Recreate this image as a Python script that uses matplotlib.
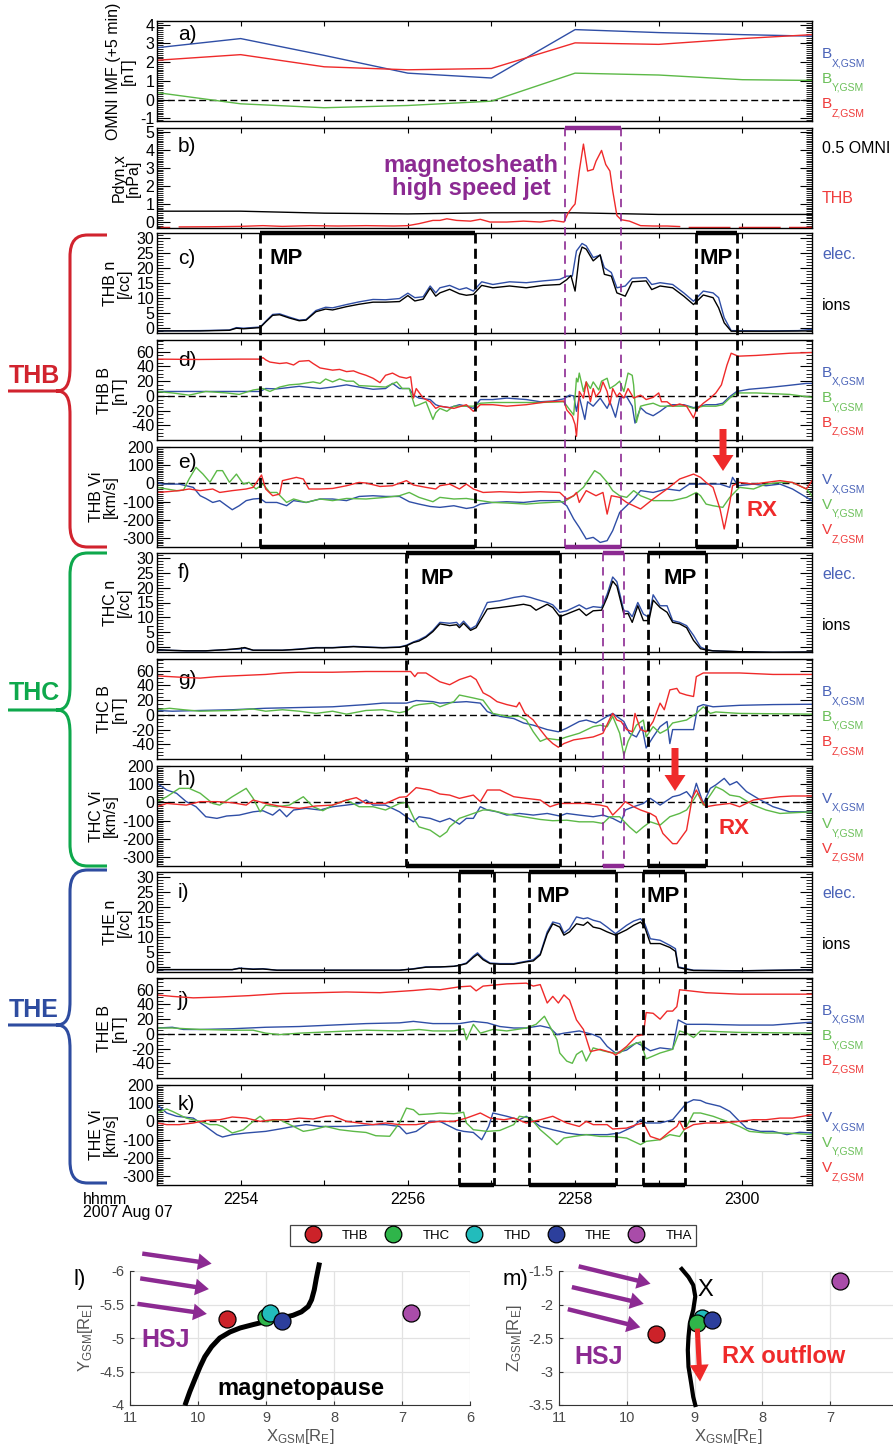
import numpy as np
import matplotlib
matplotlib.use('Agg')
import matplotlib.pyplot as plt
from matplotlib.lines import Line2D
from matplotlib.path import Path
from matplotlib.patches import PathPatch, FancyArrow
from matplotlib.transforms import Affine2D, blended_transform_factory
from matplotlib.ticker import MultipleLocator, FormatStrFormatter

plt.rcParams['font.family'] = ['Liberation Sans', 'DejaVu Sans']
plt.rcParams['mathtext.fontset'] = 'custom'
plt.rcParams['mathtext.rm'] = 'Liberation Sans'
plt.rcParams['mathtext.it'] = 'Liberation Sans:italic'
plt.rcParams['mathtext.bf'] = 'Liberation Sans:bold'
plt.rcParams['axes.unicode_minus'] = False

# ---------------------------------------------------------------------------
# data: time in seconds after 22:53:00 UT (2007 Aug 07)
# ---------------------------------------------------------------------------
nan = np.nan
tick_sec = [60, 180, 300, 420]
tick_lab = ['2254', '2256', '2258', '2300']
minor_sec = [120, 240, 360]

# a) OMNI IMF (1-min)
t_omni = [0, 60, 120, 180, 240, 300, 360, 420, 470]
omni_bx = [2.77, 3.26, 2.36, 1.41, 1.15, 3.74, 3.58, 3.47, 3.39]
omni_by = [0.37, -0.23, -0.44, -0.32, -0.09, 1.41, 1.31, 1.06, 1.02]
omni_bz = [2.10, 2.40, 1.75, 1.59, 1.66, 3.03, 2.95, 3.26, 3.47]

# b) dynamic pressure
omni_pdyn_half = [0.60, 0.60, 0.49, 0.45, 0.51, 0.51, 0.42, 0.42, 0.42]
thb_pdyn = [(3, -0.3), (9, -0.3), (12, nan), (16, -0.27), (40, -0.26), (60, -0.24), (76, -0.2),
            (90, -0.24), (110, -0.2), (130, -0.22), (150, -0.2), (170, -0.22), (180, -0.2),
            (188, -0.09), (198, 0.09), (203, 0.09), (208, 0.18), (215, 0.09), (225, 0.05),
            (232, 0.15), (239, 0.0), (251, 0.0), (263, 0.05), (275, 0.0), (284, 0.09), (292, 0.0),
            (295, 0.5), (298, 0.82), (300, 1.0), (303, 2.82), (306, 4.31), (309, 2.82), (313, 2.91),
            (315, 3.36), (319, 3.96), (322, 3.18), (325, 2.82), (327, 1.73), (330, 0.36), (333, 0.13),
            (339, 0.05), (347, -0.2), (356, -0.22), (366, -0.22), (375, -0.25), (378, nan),
            (382, -0.3), (411, -0.3), (414, nan), (418, -0.3), (447, -0.3), (450, nan),
            (454, -0.3), (470, -0.3)]

# c) THB density
thb_n_elec = [(0, -1.0), (31, -0.9), (52, -0.7), (57, 0.1), (62, -0.1), (74, 0.3), (78, 2.2), (83, 4.5),
              (88, 4.7), (95, 3.6), (102, 2.6), (107, 2.8), (114, 5.8), (121, 6.9), (126, 6.7), (136, 7.8),
              (145, 8.7), (155, 9.5), (164, 9.4), (174, 9.8), (180, 11.6), (185, 10.1), (191, 10.4),
              (196, 14.0), (200, 11.7), (203, 13.4), (210, 14.2), (217, 12.8), (222, 13.4), (227, 12.3),
              (233, 15.4), (241, 14.5), (253, 15.4), (265, 15.1), (277, 15.7), (289, 16.2), (294, 17.3),
              (298, 17.3), (301, 25.7), (305, 28.2), (308, 27.4), (313, 23.5), (318, 24.3), (321, 20.1),
              (326, 18.5), (330, 13.4), (336, 14.0), (341, 16.6), (351, 16.8), (355, 14.5), (361, 15.1),
              (370, 14.5), (378, 11.7), (385, 8.9), (392, 12.3), (399, 11.7), (403, 10.1), (407, 3.4),
              (412, -0.9), (440, -1.0), (460, -0.9), (470, -0.5)]
thb_n_ion = [(0, -1.0), (31, -1.0), (52, -0.8), (57, -0.1), (62, -0.3), (74, 0.1), (78, 2.0), (83, 4.2),
             (88, 4.4), (95, 3.3), (102, 2.4), (107, 2.6), (114, 5.4), (121, 6.3), (126, 6.0), (136, 7.1),
             (145, 7.9), (155, 8.6), (164, 8.6), (174, 8.8), (180, 10.8), (185, 9.0), (191, 9.6),
             (196, 13.3), (200, 10.6), (203, 11.7), (210, 12.9), (217, 11.4), (222, 10.9), (227, 11.2),
             (233, 14.2), (241, 13.4), (253, 14.0), (265, 13.4), (277, 14.2), (289, 14.5), (294, 16.1),
             (297, 17.5), (300, 12.3), (303, 24.0), (305, 27.0), (308, 26.3), (313, 22.4), (318, 24.4),
             (321, 17.9), (326, 17.3), (330, 11.7), (336, 10.6), (341, 15.4), (351, 15.7), (355, 12.8),
             (361, 14.0), (370, 13.4), (378, 10.6), (385, 7.8), (392, 11.0), (399, 10.1), (403, 6.7),
             (407, 1.7), (412, -1.1), (440, -1.1), (470, -1.0)]

# d) THB magnetic field
thb_bx = [(0, 6), (31, 6), (60, 6), (74, 6), (78, 10), (86, 9.5), (93, 11), (102, 13), (112, 11), (117, 10),
          (126, 12), (136, 15), (145, 12), (155, 9), (164, 10), (169, 17), (174, 10), (181, 10), (184, 1),
          (188, -3), (196, -5), (200, -12), (203, -14), (210, -16), (217, -12), (222, -14), (227, -17),
          (232, -5), (241, -5), (251, -3), (265, -5), (275, -8), (284, -7), (292, -4), (296, 1), (299, 0),
          (301, -21), (303, -1), (307, -32), (309, -8), (313, -14), (318, -3), (323, -17), (325, -8),
          (329, -29), (332, -3), (337, -1), (341, -14), (343, -37), (347, -16), (351, -23), (356, -27),
          (361, -21), (366, -14), (370, -12), (378, -12), (385, -16), (390, -14), (394, -12), (401, -12),
          (406, -10), (411, -1), (416, 6), (425, 9), (437, 11), (452, 14), (466, 17), (470, 17)]
thb_by = [(0, 6), (11, 4), (23, 1), (35, 6), (50, 4), (59, 2), (69, 8), (76, 10), (81, 6), (88, 12), (95, 15),
          (102, 16), (112, 19), (117, 17), (121, 23), (126, 19), (131, 23), (136, 20), (141, 20), (145, 14),
          (155, 13), (164, 12), (172, 19), (176, 10), (181, 10), (185, -14), (188, -12), (193, -8),
          (198, -32), (200, -23), (203, -17), (208, -21), (213, -14), (222, -14), (227, -14), (232, -10),
          (241, -9), (263, -9), (275, -9), (292, -8), (295, -16), (299, -26), (301, 24), (302, 19),
          (303, 31), (306, 6), (308, 19), (311, 10), (313, 19), (317, 8), (319, 20), (323, 24), (325, 10),
          (329, 15), (332, 20), (335, 6), (338, 31), (341, 28), (342, 15), (344, -36), (347, -14),
          (351, -12), (356, -10), (361, -14), (370, -14), (380, -14), (385, -17), (392, -14), (401, -14),
          (406, -12), (411, -3), (416, 4), (430, 4), (454, 2), (470, -2)]
thb_bz = [(0, 50), (30, 49.5), (60, 50), (74, 50), (76, 52), (78, 49), (81, 46), (88, 44), (93, 45), (98, 42),
          (102, 47), (109, 48), (112, 44), (117, 38), (126, 35), (131, 36), (136, 33), (141, 34), (145, 31),
          (150, 28), (155, 24), (160, 18), (164, 28), (169, 31), (174, 26), (179, 24), (182, 26), (184, -3),
          (186, 10), (191, -3), (196, -8), (200, -17), (203, -14), (213, -17), (222, -12), (227, -21),
          (232, -12), (241, -12), (251, -14), (265, -12), (280, -8), (292, -7), (294, -19), (298, -28),
          (300, -39), (301, -55), (302, -30), (303, 6), (306, -3), (308, 19), (311, -8), (313, 10),
          (315, -1), (318, 6), (320, 19), (323, 6), (325, -12), (327, 10), (330, -1), (332, 4), (335, -3),
          (338, 10), (342, -3), (347, 1), (351, -5), (356, -2), (360, 4), (362, -8), (366, -8), (370, -14),
          (375, -11), (380, -14), (385, -30), (387, -19), (392, -10), (397, -3), (401, 4), (405, 15),
          (409, 42), (412, 58), (417, 54), (430, 55), (454, 58), (470, 59)]

# e) THB ion velocity
thb_vx = [(0, 5), (4, -4), (16, -4), (26, -22), (31, -68), (35, -83), (40, -105), (45, -95), (50, -123),
          (54, -145), (59, -123), (64, -95), (69, -86), (74, -83), (78, -105), (86, -105), (93, -123),
          (98, -95), (107, -105), (117, -86), (126, -86), (136, -95), (145, -72), (155, -68), (164, -72),
          (174, -72), (181, -101), (188, -114), (196, -127), (203, -132), (213, -123), (222, -138),
          (227, -132), (232, -114), (241, -105), (251, -101), (263, -105), (275, -95), (289, -95),
          (294, -123), (299, -196), (303, -242), (308, -306), (313, -297), (318, -325), (323, -315),
          (327, -260), (332, -160), (337, -123), (342, -86), (347, -40), (356, -50), (366, -31), (375, -40),
          (382, -4), (394, -4), (404, -4), (411, -22), (413, 33), (417, -13), (428, -4), (437, -13),
          (447, -4), (456, -31), (466, -77), (470, -95)]
thb_vy = [(0, -22), (7, -31), (14, -40), (19, -37), (23, 24), (28, 88), (33, 51), (38, 6), (43, 70), (47, 70),
          (52, 6), (57, 51), (62, -4), (66, 6), (71, -31), (76, -4), (81, -50), (86, -50), (93, -105),
          (98, -86), (107, -105), (117, -86), (126, -95), (136, -83), (150, -86), (164, -77), (174, -68),
          (181, -50), (188, -77), (198, -101), (203, -77), (213, -86), (222, -83), (232, -95), (241, -105),
          (251, -108), (265, -114), (275, -108), (292, -101), (299, -68), (306, -22), (314, 70), (318, 51),
          (323, 6), (327, -40), (332, -68), (337, -77), (342, -40), (347, -68), (356, -95), (370, -95),
          (380, -77), (387, -50), (390, -68), (394, -114), (399, -123), (406, -132), (411, -77), (418, -22),
          (428, -31), (437, -4), (447, 5), (456, 5), (466, -31), (470, -68)]
thb_vz = [(0, -50), (7, -46), (16, -40), (23, -31), (31, -40), (40, -31), (45, -50), (54, -40), (64, -31),
          (69, -22), (75, 46), (78, -31), (83, -68), (88, -59), (90, 15), (95, 24), (100, 33), (105, 24),
          (109, -31), (117, -31), (126, -28), (136, -13), (145, 5), (150, 2), (160, -17), (169, -13),
          (179, 15), (184, -9), (193, -22), (200, -31), (203, -13), (210, -4), (217, -31), (222, -4),
          (227, -31), (234, -50), (246, -46), (260, -50), (275, -46), (289, -50), (294, -86), (299, -68),
          (301, -50), (303, -105), (308, -40), (315, -68), (320, -50), (323, -169), (326, -68), (332, -77),
          (337, -105), (347, -141), (356, -86), (366, -31), (375, 24), (385, 51), (390, 33), (394, 5),
          (399, -22), (404, -141), (407, -251), (411, -105), (413, -13), (418, 5), (428, -4), (437, 5),
          (447, 15), (456, 5), (466, -31), (470, 15)]

# f) THC density
thc_n_elec = [(0, -0.9), (7, -1.1), (21, -1.3), (35, -1.3), (50, -0.9), (59, -0.7), (63, -0.4), (69, -1.1),
              (90, -1.1), (102, -0.7), (114, -0.2), (126, -0.2), (141, 0.2), (150, 0.0), (162, -0.2),
              (174, 0.0), (179, 0.6), (184, 1.7), (188, 2.4), (193, 3.6), (198, 5.6), (203, 8.3), (210, 8.0),
              (215, 8.3), (217, 7.2), (220, 8.7), (225, 6.1), (229, 7.2), (237, 15.0), (246, 15.6),
              (256, 16.7), (263, 17.2), (268, 16.7), (272, 16.1), (280, 15.0), (284, 14.2), (289, 11.7),
              (294, 12.2), (303, 14.2), (308, 12.8), (313, 13.6), (319, 13.3), (323, 17.8), (327, 23.6),
              (330, 22.0), (335, 12.2), (338, 12.0), (341, 10.2), (345, 15.0), (349, 11.1), (353, 10.0),
              (356, 17.6), (361, 13.9), (366, 13.9), (370, 8.9), (375, 8.3), (380, 7.2), (385, 3.9),
              (390, 0.0), (394, -0.9), (399, -1.3), (418, -1.6), (442, -1.8), (470, -1.7)]
thc_n_ion = [(0, -0.9), (7, -1.1), (21, -1.3), (35, -1.3), (50, -0.9), (59, -0.5), (63, -0.2), (69, -1.1),
             (90, -1.1), (102, -0.8), (114, -0.3), (126, -0.3), (141, 0.1), (150, -0.1), (162, -0.3),
             (174, -0.1), (179, 0.4), (184, 1.5), (188, 2.0), (193, 3.3), (198, 5.2), (203, 7.8), (210, 7.2),
             (215, 7.5), (217, 6.5), (220, 8.0), (225, 5.6), (229, 6.5), (237, 12.8), (246, 13.3),
             (256, 13.9), (263, 14.4), (268, 13.9), (272, 12.4), (280, 14.4), (284, 13.3), (289, 10.2),
             (294, 11.1), (303, 12.8), (308, 10.6), (313, 12.2), (319, 12.4), (323, 16.7), (327, 22.2),
             (330, 20.5), (335, 11.1), (338, 11.3), (341, 8.3), (345, 13.9), (349, 8.9), (353, 8.9),
             (356, 15.8), (361, 13.3), (366, 11.7), (370, 8.3), (375, 7.8), (380, 6.5), (385, 2.2),
             (390, -0.6), (394, -1.0), (399, -1.3), (418, -1.6), (442, -1.8), (470, -1.7)]

# g) THC magnetic field
thc_bx = [(0, 6), (11, 5), (31, 6), (54, 7), (78, 9), (102, 10), (126, 11), (150, 14), (162, 16), (179, 16),
          (186, 19.5), (198, 18), (203, 16), (213, 17), (222, 18), (232, 16), (237, 4.5), (246, -2),
          (256, -5), (263, -11), (270, -14), (280, -20), (288, -23), (294, -18), (303, -9), (308, -7),
          (315, -11), (323, -2), (327, 2), (335, -9), (339, -25), (344, -30), (348, -16), (351, -45),
          (356, -30), (361, -16), (366, -9), (368, -39), (370, -20), (375, -20), (385, -20), (388, 11),
          (392, 14), (399, 11), (418, 13), (442, 14), (470, 14.5)]
thc_by = [(0, 7), (9, 9), (19, 7), (31, 5), (54, 6), (69, 8), (78, 5), (90, 7), (102, 5), (114, 2), (126, 5),
          (136, 1), (150, 6), (162, 7), (174, 3), (179, 5), (184, 12), (188, 14), (198, 16), (203, 11),
          (213, 18), (217, 27), (227, 23), (234, 20), (241, 2), (251, -2), (260, -2), (265, -7), (270, -23),
          (275, -36), (280, -32), (288, -34), (294, -30), (303, -25), (313, -16), (318, -14), (323, -16),
          (327, -2), (332, -25), (335, -55), (338, -36), (344, -14), (349, -7), (351, -30), (356, -16),
          (361, -25), (366, -20), (370, -11), (380, -7), (387, 2), (392, 11), (397, 2), (401, 4), (418, 2),
          (470, 1)]
thc_bz = [(0, 53), (19, 51), (31, 50), (43, 52), (54, 53), (78, 55), (90, 57), (102, 58), (126, 58), (150, 59),
          (182, 59), (185, 52), (187, 57), (193, 57), (198, 51), (203, 45), (210, 41), (217, 48), (225, 53),
          (229, 48), (234, 30), (239, 25), (244, 18), (251, 14), (258, 11), (260, 17), (264, 2), (270, -7),
          (275, -20), (280, -32), (284, -39), (288, -44), (292, -39), (299, -34), (306, -32), (313, -30),
          (320, -25), (325, -5), (327, 2), (330, -7), (333, -9), (337, -20), (341, -23), (343, 2),
          (347, -20), (351, -23), (356, -9), (361, 16), (364, 7), (368, 34), (373, 36), (375, 30),
          (380, 27), (385, 25), (387, 52), (392, 57), (399, 57), (418, 57), (442, 55), (470, 55)]

# h) THC ion velocity
thc_vx = [(0, 105), (7, 68), (14, 50), (21, 4), (28, -24), (35, -79), (43, -88), (50, -75), (59, -70),
          (69, -52), (76, -46), (83, -70), (88, -39), (93, -79), (98, -42), (107, -33), (117, -42),
          (126, -24), (136, -15), (145, -6), (150, 13), (155, -15), (164, -15), (174, -52), (184, -107),
          (188, -79), (196, -88), (203, -107), (210, -88), (217, -120), (222, -88), (227, -88), (232, -24),
          (237, -42), (244, -52), (251, -70), (260, -61), (270, -70), (280, -61), (289, -75), (294, -61),
          (303, -70), (313, -79), (320, -70), (327, -88), (333, -112), (336, -42), (342, -24), (349, -6),
          (354, 22), (361, -15), (370, 31), (375, 40), (380, 59), (384, 22), (387, 105), (392, -6),
          (397, 77), (401, 96), (407, 132), (411, 96), (416, 114), (423, 59), (433, 13), (442, -24),
          (454, -52), (470, -52)]
thc_vy = [(0, 4), (7, 31), (16, 77), (23, 77), (31, 50), (40, -6), (45, -15), (54, 31), (64, 77), (69, 22),
          (74, -52), (78, -15), (86, -24), (95, -15), (105, 31), (112, -24), (119, -46), (126, -15),
          (136, 13), (145, -24), (155, -24), (164, -42), (174, -6), (179, 0), (185, -98), (188, -135),
          (196, -153), (203, -190), (208, -162), (210, -135), (217, -88), (227, -61), (234, -42), (239, -42),
          (251, -64), (263, -79), (275, -94), (284, -101), (294, -98), (303, -107), (313, -107), (320, -116),
          (325, -79), (332, -79), (339, -135), (344, -168), (349, -135), (354, -107), (361, -125),
          (368, -79), (375, -61), (380, -42), (385, 13), (388, 50), (392, -15), (397, 40), (401, 86),
          (406, 68), (411, 40), (418, 31), (428, -15), (437, -42), (447, -61), (470, -52)]
thc_vz = [(0, -24), (7, -6), (21, -15), (31, 4), (43, 4), (54, -2), (64, -15), (69, 13), (78, -6), (90, -24),
          (102, -33), (114, -20), (126, -15), (136, 13), (143, 26), (150, -6), (164, -6), (174, 28),
          (179, 31), (186, 81), (196, 68), (203, 46), (210, 40), (217, 22), (227, 40), (232, 4), (237, 68),
          (246, 68), (256, 31), (265, 22), (275, 13), (282, -24), (289, -6), (299, -6), (308, -6),
          (318, -15), (323, -24), (327, -70), (333, -24), (336, 4), (342, -24), (347, -42), (354, -61),
          (358, -79), (363, -171), (370, -227), (373, -227), (380, -153), (384, 22), (387, 68), (392, -6),
          (394, -24), (401, -15), (411, -6), (418, -24), (428, 13), (437, 22), (447, 31), (456, 35),
          (470, 35)]

# i) THE density
the_n_elec = [(0, -0.9), (31, -0.9), (54, -0.9), (59, -0.4), (69, -0.7), (76, -0.6), (86, -1.1), (102, -1.1),
              (126, -1.1), (150, -1.1), (174, -1.1), (184, -0.6), (193, 0.0), (203, 0.0), (213, 0.2),
              (217, 0.6), (222, 1.3), (227, 3.6), (230, 4.7), (234, 2.8), (239, 1.3), (246, 1.1), (256, 1.1),
              (265, 1.9), (270, 2.4), (275, 4.4), (280, 11.7), (284, 15.0), (289, 14.4), (292, 11.3),
              (296, 12.8), (301, 16.7), (306, 16.1), (309, 16.4), (313, 15.6), (318, 15.0), (323, 13.3),
              (329, 11.1), (337, 13.9), (342, 15.3), (347, 16.1), (350, 14.4), (354, 9.4), (361, 8.9),
              (368, 7.2), (372, 6.1), (374, 0.0), (380, -0.6), (385, -1.1), (418, -1.3), (470, -0.9)]
the_n_ion = [(0, -0.9), (31, -0.9), (54, -0.9), (59, -0.5), (69, -0.8), (76, -0.7), (86, -1.1), (102, -1.1),
             (126, -1.1), (150, -1.1), (174, -1.1), (184, -0.7), (193, -0.1), (203, 0.0), (213, 0.2),
             (217, 0.5), (222, 1.1), (227, 3.2), (230, 4.2), (234, 2.4), (239, 1.1), (246, 0.9), (256, 0.9),
             (265, 1.7), (270, 2.0), (275, 4.0), (280, 11.0), (284, 14.4), (289, 13.3), (292, 10.6),
             (296, 11.7), (301, 14.4), (306, 13.9), (309, 15.0), (313, 13.3), (318, 12.8), (323, 11.7),
             (329, 10.6), (337, 12.4), (342, 13.9), (347, 15.0), (350, 13.3), (354, 7.8), (361, 7.8),
             (368, 6.5), (372, 5.2), (374, -0.2), (380, -0.8), (385, -1.2), (418, -1.3), (470, -1.0)]

# j) THE magnetic field
the_bx = [(0, 8), (11, 9), (19, 6), (31, 6), (54, 7), (78, 9), (102, 10), (126, 12), (150, 14), (174, 15),
          (184, 17), (198, 14), (203, 14), (217, 14), (227, 17), (237, 15), (246, 10), (256, 8), (265, 8),
          (275, 11), (282, 8), (287, -1), (292, 1), (303, 4), (313, -1), (318, -5), (323, -17), (329, -26),
          (337, -22), (344, -12), (349, -17), (354, -23), (361, -19), (370, -21), (374, 19), (380, 13),
          (394, 13), (418, 12), (442, 12), (470, 16)]
the_by = [(0, 8), (11, 8), (31, 6), (54, 5), (69, 5), (78, 1), (88, -1), (102, 1), (126, 3), (150, 5), (174, 4),
          (188, 6), (198, 4), (203, 4), (213, 4), (220, 7), (222, -8), (227, 13), (232, 1), (241, 6),
          (251, 4), (265, 8), (272, 13), (278, 24), (282, 10), (287, -8), (289, -26), (294, -37), (298, -40),
          (301, -28), (305, -23), (308, -37), (313, -19), (320, -23), (327, -26), (332, -26), (337, -19),
          (342, -14), (347, -11), (351, -34), (361, -26), (370, -21), (375, 4), (380, 1), (385, -5),
          (390, 4), (418, 2), (470, 1)]
the_bz = [(0, 53), (11, 51), (26, 49), (43, 50), (66, 52), (90, 55), (114, 56), (136, 57), (160, 56), (184, 59),
          (196, 61), (203, 60), (217, 64), (225, 65), (229, 58.5), (234, 65), (251, 68), (265, 69), (270, 65),
          (275, 67), (280, 42), (284, 51), (288, 42), (292, 53), (296, 46), (301, 19), (306, 6), (311, -24),
          (318, -21), (327, -26), (329, -29), (337, -17), (344, -3), (349, -1), (351, 29), (356, 28),
          (361, 20), (366, 31), (370, 31), (373, 37), (375, 60), (380, 59), (394, 56), (418, 54), (442, 54),
          (470, 54)]

# k) THE ion velocity
the_vx = [(0, 92), (7, 46), (14, 28), (26, 18), (35, -28), (43, -73), (47, -86), (54, -73), (64, -64),
          (78, -55), (88, -42), (98, -28), (107, -18), (117, -28), (126, -28), (136, -28), (145, -24),
          (155, -18), (164, -18), (174, -28), (179, -68), (186, -55), (196, 0), (203, 0), (215, -46),
          (220, -55), (227, -61), (233, -101), (238, -28), (241, 46), (251, 28), (260, 9), (265, 28),
          (275, -28), (284, -46), (294, -64), (303, -73), (313, -73), (323, -73), (332, -64), (342, -28),
          (347, 9), (351, -9), (361, -9), (370, 9), (375, 55), (380, 101), (385, 119), (390, 115),
          (394, 101), (404, 83), (411, 55), (418, 0), (423, -37), (433, -55), (442, -55), (452, -73),
          (461, -60), (470, -64)]
the_vy = [(0, 46), (7, 68), (11, 55), (21, 18), (31, 0), (38, -18), (43, -18), (47, -28), (54, -64), (62, -46),
          (69, 0), (74, 28), (78, 0), (88, 9), (98, -28), (105, -55), (112, -46), (121, -28), (131, -46),
          (141, -55), (150, -61), (157, -79), (167, -82), (174, -9), (179, 73), (184, 64), (188, 37),
          (198, 42), (203, 46), (213, 42), (220, 50), (222, -9), (227, -46), (237, -55), (246, -50),
          (256, -18), (260, 28), (268, 18), (275, -46), (282, -92), (287, -128), (292, -92), (299, -83),
          (308, -73), (318, -83), (327, -83), (337, -92), (347, -128), (351, -110), (361, -101), (368, -73),
          (375, -83), (380, -28), (385, 46), (390, 46), (399, 28), (409, 0), (418, -28), (425, -55),
          (437, -64), (452, -64), (470, -73)]
the_vz = [(0, -9), (7, -18), (16, -18), (26, -9), (35, 5), (45, 9), (54, 24), (64, 18), (74, 0), (83, 9),
          (93, 9), (102, 18), (112, 13), (121, 28), (126, 31), (136, 0), (145, -9), (155, -18), (164, -9),
          (174, -18), (186, -18), (193, -9), (203, 0), (213, 0), (222, 18), (232, 46), (239, 18), (249, 9),
          (256, 18), (265, -9), (275, 9), (284, 28), (289, 9), (294, -9), (303, -28), (308, 0), (313, -18),
          (323, -18), (327, -42), (337, -37), (344, -18), (349, -9), (354, -83), (361, -101), (368, -55),
          (373, -28), (375, 0), (378, -46), (385, -18), (394, -9), (404, -9), (418, 0), (428, 9), (437, 9),
          (447, 18), (456, 18), (470, 37)]

# magnetopause crossings (start, end seconds) and jet intervals
thb_mp = [(74, 228), (387, 416)]
thc_mp = [(179, 289), (352, 394)]
the_mp = [(217, 242), (267, 329), (349, 379)]
thb_jet = (293, 333)
thc_jet = (320, 335)

# l), m) spacecraft positions
sc_names = ['THB', 'THC', 'THD', 'THE', 'THA']
sc_x_xy = [9.58, 9.00, 8.94, 8.77, 6.87]
sc_y_xy = [-5.28, -5.32, -5.37, -5.26, -5.38]
sc_x_xz = [9.57, 8.96, 8.89, 8.74, 6.85]
sc_z_xz = [-2.44, -2.28, -2.20, -2.23, -1.65]
mp_xy_x = [10.18, 10.12, 10.04, 9.97, 9.90, 9.80, 9.68, 9.53, 9.38, 9.19, 8.99, 8.79, 8.60, 8.48, 8.38,
           8.33, 8.29, 8.26, 8.22]
mp_xy_y = [-4.03, -4.20, -4.40, -4.57, -4.72, -4.87, -5.00, -5.09, -5.15, -5.20, -5.25, -5.29, -5.34,
           -5.39, -5.47, -5.57, -5.72, -5.89, -6.09]
mp_xz_x = [9.19, 9.09, 9.02, 8.99, 9.02, 9.07, 9.09, 9.10, 9.09, 9.05, 9.02, 8.99]
mp_xz_z = [-1.47, -1.59, -1.71, -1.88, -2.08, -2.28, -2.48, -2.68, -2.93, -3.18, -3.38, -3.50]
hsj_xy = [((10.82, -6.26), (9.80, -6.11)), ((10.85, -5.89), (9.84, -5.73)), ((10.89, -5.51), (9.87, -5.36))]
hsj_xz = [((10.71, -1.43), (9.65, -1.69)), ((10.81, -1.74), (9.75, -1.99)), ((10.87, -2.07), (9.80, -2.34))]
rx_outflow = ((8.96, -2.36), (8.92, -3.15))

# ---------------------------------------------------------------------------
BLUE, GREEN, RED, PURPLE = '#2f4ea6', '#5cb947', '#ef2a2a', '#8c2a92'
BLUE_T, GREEN_T, RED_T = '#4a63b8', '#6cc05a', '#ef3b3b'
SC_COL = ['#cc2229', '#2fb54a', '#22bcbc', '#2c3f9c', '#a94ca9']

W, H = 893, 1452
fig = plt.figure(figsize=(W / 100, H / 100), dpi=100)
px = Affine2D().scale(1 / W, -1 / H).translate(0, 1) + fig.transFigure


def add_axes(x0, y0, x1, y1):
    return fig.add_axes([x0 / W, 1 - y1 / H, (x1 - x0) / W, (y1 - y0) / H])


def xy(pairs):
    a = np.array(pairs, dtype=float)
    return a[:, 0], a[:, 1]


rows = {'a': (21, 121), 'b': (128, 228), 'c': (233, 333), 'd': (340, 440), 'e': (447, 547),
        'f': (553, 652), 'g': (659, 759), 'h': (766, 866), 'i': (872, 972), 'j': (978, 1078),
        'k': (1085, 1185)}
ax = {k: add_axes(157, y0, 812, y1) for k, (y0, y1) in rows.items()}


def style(a, ylim, yticks, minor, ylabel, letter, letter_y):
    a.set_xlim(0, 470)
    a.set_ylim(*ylim)
    a.set_xticks(tick_sec)
    a.set_xticks(minor_sec, minor=True)
    a.set_xticklabels([])
    a.set_yticks(yticks)
    a.set_yticklabels([f'{v:g}' for v in yticks])
    a.yaxis.set_minor_locator(MultipleLocator(minor))
    a.tick_params(axis='y', which='major', direction='in', length=9, width=0.8, left=True, right=True,
                  labelsize=11.5, pad=2)
    a.tick_params(axis='y', which='minor', direction='in', length=4.5, width=0.6, left=True, right=True)
    a.tick_params(axis='x', which='both', direction='in', length=3.5, width=0.8, top=True, bottom=True,
                  labelsize=11.5, pad=5)
    for s in a.spines.values():
        s.set_linewidth(1.0)
    a.set_ylabel(ylabel, fontsize=11.5, linespacing=0.95, labelpad=3)
    a.text(0.032, letter_y, letter, transform=a.transAxes, fontsize=15, va='center', zorder=1)


def zero(a):
    a.axhline(0, color='k', lw=1.0, ls=(0, (5, 2.5)), zorder=1.5)


lw = 1.0
VLIM, BLIM, NLIM = (-350, 200), (-60, 76), (-1.7, 31.7)
VT, BT, NT = [-300, -200, -100, 0, 100, 200], [-40, -20, 0, 20, 40, 60], [0, 5, 10, 15, 20, 25, 30]

# a)
a = ax['a']
a.plot(t_omni, omni_bx, color=BLUE, lw=lw)
a.plot(t_omni, omni_by, color=GREEN, lw=lw)
a.plot(t_omni, omni_bz, color=RED, lw=lw)
zero(a)
style(a, (-1.15, 4.2), [-1, 0, 1, 2, 3, 4], 0.1, 'OMNI IMF (+5 min)\n[nT]', 'a)', 0.86)

# b)
a = ax['b']
a.plot(t_omni, omni_pdyn_half, color='k', lw=lw)
a.plot(*xy(thb_pdyn), color=RED, lw=lw)
style(a, (-0.33, 5.2), [0, 1, 2, 3, 4, 5], 0.1, 'Pdyn,x\n[nPa]', 'b)', 0.81)

# density / field / velocity panels
for key, ne, ni, sc, letter, ly in [('c', thb_n_elec, thb_n_ion, 'THB', 'c)', 0.75),
                                    ('f', thc_n_elec, thc_n_ion, 'THC', 'f)', 0.80),
                                    ('i', the_n_elec, the_n_ion, 'THE', 'i)', 0.80)]:
    a = ax[key]
    a.plot(*xy(ne), color=BLUE, lw=lw)
    a.plot(*xy(ni), color='k', lw=lw)
    style(a, NLIM, NT, 1, f'{sc} n\n[/cc]', letter, ly)

for key, bx, by, bz, sc, letter, ly in [('d', thb_bx, thb_by, thb_bz, 'THB', 'd)', 0.80),
                                        ('g', thc_bx, thc_by, thc_bz, 'THC', 'g)', 0.79),
                                        ('j', the_bx, the_by, the_bz, 'THE', 'j)', 0.78)]:
    a = ax[key]
    a.plot(*xy(bx), color=BLUE, lw=lw)
    a.plot(*xy(by), color=GREEN, lw=lw)
    a.plot(*xy(bz), color=RED, lw=lw)
    zero(a)
    style(a, BLIM, BT, 5, f'{sc} B\n[nT]', letter, ly)

for key, vx, vy, vz, sc, letter, ly in [('e', thb_vx, thb_vy, thb_vz, 'THB', 'e)', 0.84),
                                        ('h', thc_vx, thc_vy, thc_vz, 'THC', 'h)', 0.86),
                                        ('k', the_vx, the_vy, the_vz, 'THE', 'k)', 0.80)]:
    a = ax[key]
    a.plot(*xy(vx), color=BLUE, lw=lw)
    a.plot(*xy(vy), color=GREEN, lw=lw)
    a.plot(*xy(vz), color=RED, lw=lw)
    zero(a)
    style(a, VLIM, VT, 10, f'{sc} Vi\n[km/s]', letter, ly)

ax['k'].set_xticks(tick_sec, tick_lab)
fig.text(83, 1206, 'hhmm\n2007 Aug 07', transform=px, fontsize=11.5, va='center', ha='left', linespacing=0.85)


# right-hand labels: main letter plus lowered subscript
def side_label(y, letter, sub, color):
    fig.text(822, y, letter, transform=px, color=color, fontsize=11, va='baseline')
    fig.text(832, y + 8, sub, transform=px, color=color, fontsize=7.5, va='baseline')


subs = ['X,GSM', 'Y,GSM', 'Z,GSM']
for key in ['a', 'd', 'g', 'j', 'e', 'h', 'k']:
    letter = 'V' if key in ('e', 'h', 'k') else 'B'
    for s, dy, c in zip(subs, [37, 62, 87], [BLUE_T, GREEN_T, RED_T]):
        side_label(rows[key][0] + dy, letter, s, c)
for key in ['c', 'f', 'i']:
    fig.text(822, rows[key][0] + 26, 'elec.', transform=px, color=BLUE_T, fontsize=11.5, va='baseline')
    fig.text(822, rows[key][0] + 77, 'ions', transform=px, color='k', fontsize=11.5, va='baseline')
fig.text(822, rows['b'][0] + 25, '0.5 OMNI', transform=px, color='k', fontsize=11.5, va='baseline')
fig.text(822, rows['b'][0] + 75, 'THB', transform=px, color=RED_T, fontsize=11.5, va='baseline')


# boxes marking magnetopause / jet intervals
def box(t0, t1, ytop, ybot, color, lw_v, dash, lw_h):
    tr = blended_transform_factory(ax['c'].transData, px)
    for t in (t0, t1):
        fig.add_artist(Line2D([t, t], [ytop, ybot], transform=tr, color=color, lw=lw_v,
                              linestyle=(0, dash), zorder=5))
    for y in (ytop, ybot):
        fig.add_artist(Line2D([t0, t1], [y, y], transform=tr, color=color, lw=lw_h,
                              solid_capstyle='butt', zorder=5))


for t0, t1 in thb_mp:
    box(t0, t1, rows['c'][0], rows['e'][1], 'k', 2.0, (3.6, 1.9), 3.2)
for t0, t1 in thc_mp:
    box(t0, t1, rows['f'][0], rows['h'][1], 'k', 2.0, (3.6, 1.9), 3.2)
for t0, t1 in the_mp:
    box(t0, t1, rows['i'][0], rows['k'][1], 'k', 2.0, (3.6, 1.9), 3.2)
box(*thb_jet, rows['b'][0], rows['e'][1], PURPLE, 1.2, (5, 3.5), 3.2)
box(*thc_jet, rows['f'][0], rows['h'][1], PURPLE, 1.2, (5, 3.5), 3.2)

trx = blended_transform_factory(ax['c'].transData, px)
for t, y in [(92.9, 258), (401.5, 258), (200.9, 578), (375.3, 578), (284.2, 897), (363.1, 897)]:
    fig.text(t, y, 'MP', transform=trx, fontsize=16, fontweight='bold', ha='center', va='center')

fig.text(471, 177, 'magnetosheath\nhigh speed jet', transform=px, color=PURPLE, fontsize=17,
         fontweight='bold', ha='center', va='center', linespacing=0.95)

# RX arrows and labels
for x0, y0, ln in [(723, 429, 42), (675, 748, 43)]:
    fig.add_artist(FancyArrow(x0, y0, 0, ln, width=7, head_width=21, head_length=16,
                              length_includes_head=True, color=RED, lw=0, transform=px))
fig.text(762, 510, 'RX', transform=px, color=RED, fontsize=16, fontweight='bold', ha='center', va='center')
fig.text(734, 828, 'RX', transform=px, color=RED, fontsize=16, fontweight='bold', ha='center', va='center')


# braces on the left
def brace(top, mid, bot, color, label, ly):
    verts = [(107, top), (88, top), (76, top), (70, top + 6), (70, top + 22), (70, mid - 24),
             (70, mid - 6), (66, mid), (56, mid), (8, mid),
             (56, mid), (66, mid), (70, mid + 6), (70, mid + 24), (70, bot - 22),
             (70, bot - 6), (76, bot), (88, bot), (107, bot)]
    codes = [Path.MOVETO, Path.LINETO, Path.CURVE4, Path.CURVE4, Path.CURVE4, Path.LINETO,
             Path.CURVE4, Path.CURVE4, Path.CURVE4, Path.LINETO,
             Path.MOVETO, Path.CURVE4, Path.CURVE4, Path.CURVE4, Path.LINETO,
             Path.CURVE4, Path.CURVE4, Path.CURVE4, Path.LINETO]
    fig.add_artist(PathPatch(Path(verts, codes), fill=False, edgecolor=color, lw=2.2, transform=px))
    fig.text(34, ly, label, transform=px, color=color, fontsize=18, fontweight='bold',
             ha='center', va='center')


brace(235, 391, 547, '#d1232e', 'THB', 376)
brace(553, 710, 866, '#0ea84c', 'THC', 693)
brace(870, 1025, 1183, '#2e4ca0', 'THE', 1010)

# ---------------------------------------------------------------------------
# l) and m) spacecraft positions
axl = add_axes(130, 1271, 470, 1405)
axm = add_axes(559, 1271, 898, 1405)


def style_pos(a, xticks, ylim, yticks, ylabel):
    a.set_xlim(11, 6)
    a.set_ylim(*ylim)
    a.set_xticks(xticks)
    a.set_yticks(yticks)
    a.yaxis.set_major_formatter(FormatStrFormatter('%g'))
    a.grid(True, color='#e2e2e2', lw=0.9)
    a.set_axisbelow(True)
    a.spines[['top', 'right']].set_visible(False)
    for s in ('left', 'bottom'):
        a.spines[s].set_color('#333333')
        a.spines[s].set_linewidth(0.8)
    a.tick_params(direction='in', length=3, color='#333333', labelcolor='#4a4a4a', labelsize=10.5, pad=4)
    a.set_xlabel(r'X$_{\mathrm{GSM}}$[R$_{\mathrm{E}}$]', fontsize=12, color='#555555', labelpad=2)
    a.set_ylabel(ylabel, fontsize=12, color='#555555', labelpad=3)


style_pos(axl, [11, 10, 9, 8, 7, 6], (-4, -6), [-6, -5.5, -5, -4.5, -4], r'Y$_{\mathrm{GSM}}$[R$_{\mathrm{E}}$]')
style_pos(axm, [11, 10, 9, 8, 7], (-3.5, -1.5), [-3.5, -3, -2.5, -2, -1.5], r'Z$_{\mathrm{GSM}}$[R$_{\mathrm{E}}$]')

axl.plot(mp_xy_x, mp_xy_y, color='k', lw=3.6, clip_on=False, zorder=3)
axm.plot(mp_xz_x, mp_xz_z, color='k', lw=3.0, clip_on=False, zorder=3)

for i in [0, 1, 2, 3, 4]:
    axl.scatter(sc_x_xy[i], sc_y_xy[i], s=150, color=SC_COL[i], edgecolor='k', lw=0.9, zorder=4)
for i in [0, 2, 1, 3, 4]:
    axm.scatter(sc_x_xz[i], sc_z_xz[i], s=150, color=SC_COL[i], edgecolor='k', lw=0.9, zorder=4)

for a, arrows in [(axl, hsj_xy), (axm, hsj_xz)]:
    for (x0, y0), (x1, y1) in arrows:
        a.add_patch(FancyArrow(x0, y0, x1 - x0, y1 - y0, width=0.066, head_width=0.25, head_length=0.2,
                               length_includes_head=True, color=PURPLE, lw=0, clip_on=False, zorder=5))
(x0, y0), (x1, y1) = rx_outflow
axm.add_patch(FancyArrow(x0, y0, x1 - x0, y1 - y0, width=0.075, head_width=0.28, head_length=0.25,
                         length_includes_head=True, color=RED, lw=0, zorder=5))

axl.text(10.47, -4.97, 'HSJ', color=PURPLE, fontsize=18, fontweight='bold', ha='center', va='center')
axl.text(8.49, -4.25, 'magnetopause', color='k', fontsize=17, fontweight='bold', ha='center', va='center')
axm.text(10.42, -2.78, 'HSJ', color=PURPLE, fontsize=18, fontweight='bold', ha='center', va='center')
axm.text(7.68, -2.78, 'RX outflow', color=RED, fontsize=17, fontweight='bold', ha='center', va='center')
axm.text(8.84, -1.78, 'X', color='k', fontsize=17, ha='center', va='center')
fig.text(80, 1279, 'l)', transform=px, fontsize=16, ha='center', va='center')
fig.text(515, 1280, 'm)', transform=px, fontsize=16, ha='center', va='center')

handles = [Line2D([], [], marker='o', ls='', markersize=12, markerfacecolor=c, markeredgecolor='k',
                  markeredgewidth=0.9) for c in SC_COL]
leg = fig.legend(handles, sc_names, ncol=5, loc='center', bbox_to_anchor=(493 / W, 1 - 1235.5 / H),
                 fontsize=9.5, frameon=True, fancybox=False, edgecolor='#444444', framealpha=1,
                 handlelength=2.85, handletextpad=0.8, columnspacing=0.45, borderpad=0.3)
leg.get_frame().set_linewidth(0.9)

fig.savefig('out.png', dpi=100)
